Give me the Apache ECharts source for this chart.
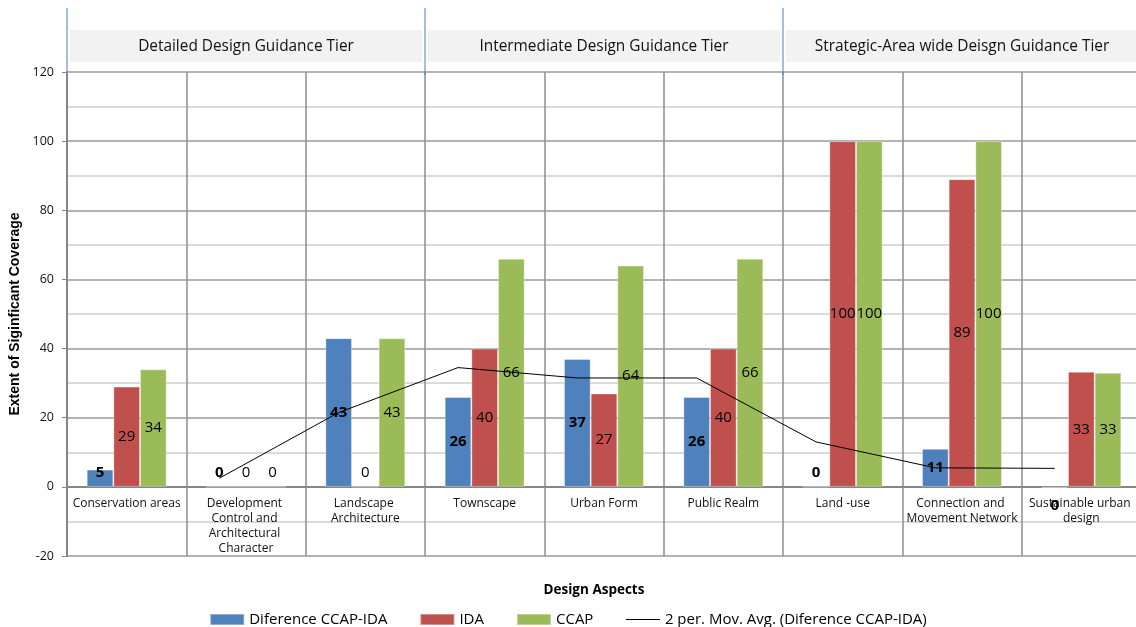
<!DOCTYPE html>
<html>
<head>
<meta charset="utf-8">
<script src="https://cdn.jsdelivr.net/npm/echarts@6/dist/echarts.min.js"></script>
<style>
  html, body { margin: 0; padding: 0; background: #fff; }
  #chart { width: 1136px; height: 627px; }
</style>
</head>
<body>
<div id="chart"></div>
<script>
// Design aspects, grouped into three guidance tiers
const categories = [
  'Conservation areas',
  'Development Control and Architectural Character',
  'Landscape Architecture',
  'Townscape',
  'Urban Form',
  'Public Realm',
  'Land -use',
  'Connection and Movement Network',
  'Sustainable urban design'
];

// Coverage scores
const ida  = [29, 0, 0, 40, 27, 40, 100, 89, 33.3];
const ccap = [34, 0, 43, 66, 64, 66, 100, 100, 33];
const diff = [5, 0, 43, 26, 37, 26, 0, 11, -0.3];

// Two-period moving average of the difference series
const movAvg = [null, 2.5, 21.5, 34.5, 31.5, 31.5, 13, 5.5, 5.35];

// Tier headers: name and index of the first category in the tier
const tierNames = [
  'Detailed Design Guidance Tier',
  'Intermediate Design Guidance Tier',
  'Strategic-Area wide Deisgn Guidance Tier'
];
const tierStarts = [0, 3, 6];

const yTicks = { min: -20, max: 120, step: 20 };

const FONT = '"Open Sans", "Noto Sans", sans-serif';
const CATEGORY_GAP = 0.33;   // share of each band left empty around the bar group
const BARS_PER_GROUP = 3;

// Value labels sit in the middle of the bar; short bars carry them just above
// the base, and negative ones just under the axis line.
function barData(values) {
  return values.map(v => {
    let label;
    if (v < 0) {
      label = { position: 'inside', offset: [0, 18] };
    } else if (v < 8) {
      label = { position: 'insideBottom', distance: 7 };
    } else {
      label = { position: 'inside' };
    }
    return { value: v, label: label };
  });
}

const labelBase = {
  show: true,
  color: '#000',
  fontSize: 15,
  fontFamily: FONT,
  formatter: p => String(Math.abs(Math.round(p.value)))
};

// The moving-average trend follows the difference bars, so each vertex sits
// over the centre of the first bar in its group.
function renderTrend(params, api) {
  const i = params.dataIndex;
  const cur = api.value(1);
  const prev = i > 0 ? movAvg[i - 1] : null;
  if (cur == null || isNaN(cur) || prev == null) return null;
  const band = api.size([1, 0])[0];
  const shift = band * (1 - CATEGORY_GAP) / BARS_PER_GROUP;
  const p0 = api.coord([i - 1, prev]);
  const p1 = api.coord([i, cur]);
  return {
    type: 'line',
    shape: { x1: p0[0] - shift, y1: p0[1], x2: p1[0] - shift, y2: p1[1] },
    style: { stroke: '#000', lineWidth: 1, fill: null },
    silent: true
  };
}

const option = {
  animation: false,
  backgroundColor: '#fff',
  grid: { left: 67, top: 72, width: 1074, height: 484, containLabel: false, outerBoundsMode: 'none' },
  legend: {
    top: 607,
    left: 'center',
    itemWidth: 34,
    itemHeight: 11,
    itemGap: 32,
    textStyle: { fontSize: 15, color: '#000', fontFamily: FONT },
    data: [
      { name: 'Diference CCAP-IDA', icon: 'rect' },
      { name: 'IDA', icon: 'rect' },
      { name: 'CCAP', icon: 'rect' },
      {
        name: '2 per. Mov. Avg. (Diference CCAP-IDA)',
        icon: 'path://M0,0M0,5L34,5M34,10',
        itemStyle: { color: 'rgba(0,0,0,0)', borderColor: '#000', borderWidth: 1 }
      }
    ]
  },
  xAxis: {
    type: 'category',
    data: categories,
    boundaryGap: true,
    axisLine: { show: true, onZero: false, lineStyle: { color: '#868686', width: 2 } },
    axisTick: { show: false },
    axisLabel: {
      interval: 0,
      margin: 9,
      fontSize: 12,
      lineHeight: 15,
      color: '#111',
      fontFamily: FONT,
      width: 116,
      overflow: 'break'
    },
    splitLine: { show: true, interval: 0, lineStyle: { color: '#8e8e8e', width: 1.5 } }
  },
  yAxis: {
    type: 'value',
    min: yTicks.min,
    max: yTicks.max,
    interval: yTicks.step,
    name: 'Extent of Siginficant Coverage',
    nameLocation: 'middle',
    nameRotate: 90,
    nameGap: 38,
    nameTextStyle: {
      fontSize: 14,
      fontWeight: 'bold',
      color: '#000',
      fontFamily: '"Liberation Sans Narrow", "Liberation Sans", sans-serif'
    },
    axisLine: { show: true, lineStyle: { color: '#868686', width: 2 } },
    axisTick: { show: true, length: 5, lineStyle: { color: '#868686' } },
    axisLabel: { fontSize: 12.5, color: '#111', margin: 13, fontFamily: FONT },
    splitLine: { show: true, lineStyle: { color: '#9a9a9a', width: 1.5 } },
    minorTick: { show: false, splitNumber: 2 },
    minorSplitLine: { show: true, lineStyle: { color: '#cfcfcf', width: 1.5 } }
  },
  series: [
    {
      name: 'Diference CCAP-IDA',
      type: 'bar',
      data: barData(diff),
      barGap: '0%',
      barCategoryGap: (CATEGORY_GAP * 100) + '%',
      itemStyle: { color: '#4f81bd', borderColor: 'rgba(255,255,255,0.35)', borderWidth: 1 },
      label: Object.assign({}, labelBase, { fontWeight: 'bold' })
    },
    {
      name: 'IDA',
      type: 'bar',
      data: barData(ida),
      itemStyle: { color: '#c0504d', borderColor: 'rgba(255,255,255,0.35)', borderWidth: 1 },
      label: labelBase
    },
    {
      name: 'CCAP',
      type: 'bar',
      data: barData(ccap),
      itemStyle: { color: '#9bbb59', borderColor: 'rgba(255,255,255,0.35)', borderWidth: 1 },
      label: labelBase
    },
    {
      name: '2 per. Mov. Avg. (Diference CCAP-IDA)',
      type: 'custom',
      renderItem: renderTrend,
      data: movAvg.map((v, i) => [i, v]),
      encode: { x: 0, y: 1 },
      z: 5,
      itemStyle: { color: '#000' }
    }
  ]
};

const chart = echarts.init(document.getElementById('chart'), null, { renderer: 'canvas' });
chart.setOption(option);

// Category axis runs along the zero line, with its labels hanging below it
const zeroY = chart.convertToPixel({ yAxisIndex: 0 }, 0);
const floorY = chart.convertToPixel({ yAxisIndex: 0 }, yTicks.min);
chart.setOption({ xAxis: { offset: -(floorY - zeroY) } });

// Tier header bands and divider lines, placed from the category axis scale
function tierGraphics() {
  const c0 = chart.convertToPixel({ xAxisIndex: 0 }, categories[0]);
  const c1 = chart.convertToPixel({ xAxisIndex: 0 }, categories[1]);
  const band = c1 - c0;
  const topY = chart.convertToPixel({ yAxisIndex: 0 }, yTicks.max);
  const els = [];
  tierStarts.forEach((start, i) => {
    const end = (i + 1 < tierStarts.length) ? tierStarts[i + 1] : categories.length;
    const x0 = chart.convertToPixel({ xAxisIndex: 0 }, categories[start]) - band / 2;
    const x1 = chart.convertToPixel({ xAxisIndex: 0 }, categories[end - 1]) + band / 2;
    els.push({
      type: 'rect',
      shape: { x: x0 + 3, y: topY - 42, width: x1 - x0 - 6, height: 32 },
      style: { fill: '#f2f2f2' },
      silent: true
    });
    els.push({
      type: 'text',
      x: (x0 + x1) / 2,
      y: topY - 25,
      style: {
        text: tierNames[i],
        fontSize: 15.4,
        fontFamily: FONT,
        fill: '#111',
        align: 'center',
        verticalAlign: 'middle'
      },
      silent: true
    });
    els.push({
      type: 'line',
      shape: { x1: x0, y1: topY - 64, x2: x0, y2: topY + 3 },
      style: { stroke: '#4a7ebb', lineWidth: 1 },
      silent: true
    });
  });
  // Horizontal axis title
  els.push({
    type: 'text',
    x: 594,
    y: 590,
    style: {
      text: 'Design Aspects',
      fontSize: 13.5,
      fontWeight: 'bold',
      fontFamily: FONT,
      fill: '#000',
      align: 'center',
      verticalAlign: 'middle'
    },
    silent: true
  });
  return els;
}

chart.setOption({ graphic: tierGraphics() });
</script>
</body>
</html>
